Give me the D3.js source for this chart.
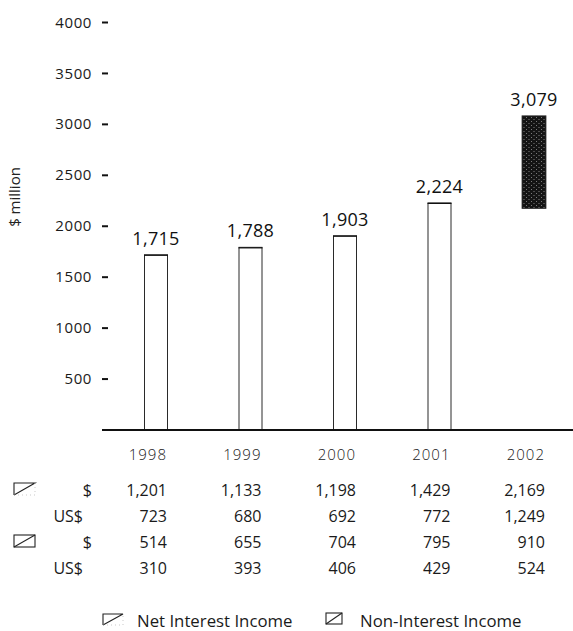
<!DOCTYPE html>
<html><head><meta charset="utf-8">
<script src="https://cdn.jsdelivr.net/npm/d3@7/dist/d3.min.js"></script>
<style>
html,body{margin:0;padding:0;background:#fff;}
svg{display:block;font-family:"Open Sans","Noto Sans",sans-serif;}
</style></head>
<body>
<svg id="c" width="573" height="631"></svg>
<script>
const years = ["1998","1999","2000","2001","2002"];
const netInterest = [1201,1133,1198,1429,2169];
const netInterestUS = [723,680,692,772,1249];
const nonInterest = [514,655,704,795,910];
const nonInterestUS = [310,393,406,429,524];
const totals = [1715,1788,1903,2224,3079];
const yTicks = [500,1000,1500,2000,2500,3000,3500,4000];
const yLabel = "$ million";
const legendLabels = ["Net Interest Income","Non-Interest Income"];

const svg = d3.select("#c");
const fmt = d3.format(",");

const y = d3.scaleLinear().domain([0,4000]).range([429.5,22]);
const x = d3.scalePoint().domain(years).range([156,534]);
const bw = 24;

// pattern for highlighted segment
const defs = svg.append("defs");
const pat = defs.append("pattern").attr("id","dense").attr("patternUnits","userSpaceOnUse")
  .attr("width",5).attr("height",4);
pat.append("rect").attr("width",5).attr("height",4).attr("fill","#141414");
pat.append("rect").attr("x",1).attr("y",1).attr("width",1).attr("height",1).attr("fill","#7a7a7a");
pat.append("rect").attr("x",3).attr("y",3).attr("width",2).attr("height",1).attr("fill","#4a4a4a");

// y axis (ticks as short dashes)
const yAxis = d3.axisLeft(y).tickValues(yTicks).tickFormat(d3.format("d")).tickSize(0).tickPadding(0);
const ga = svg.append("g").attr("transform","translate(92,0)").call(yAxis);
ga.select(".domain").remove();
ga.selectAll("text").attr("x",0).attr("dy","0.34em").attr("font-size",15)
  .attr("letter-spacing",0.6)
  .attr("fill","#1a1a1a").attr("font-family","'Open Sans',sans-serif").attr("text-anchor","end");
ga.selectAll(".tick").append("line").attr("x1",10).attr("x2",16).attr("y1",0).attr("y2",0)
  .attr("stroke","#111").attr("stroke-width",2);

svg.append("text").attr("transform","translate(20,197) rotate(-90)")
  .attr("text-anchor","middle").attr("font-size",15).attr("fill","#222").text(yLabel);

// bars: stacked segments
const g = svg.append("g");
years.forEach((yr,i)=>{
  const cx = x(yr);
  const last = i === years.length-1;
  const top = netInterest[i] + nonInterest[i];
  // net interest segment
  g.append("rect").attr("x",cx-bw/2).attr("width",bw)
    .attr("y",y(netInterest[i])).attr("height",y(0)-y(netInterest[i]))
    .attr("fill","#fff");
  // non-interest segment
  g.append("rect").attr("x",cx-bw/2).attr("width",bw)
    .attr("y",y(top)).attr("height",y(netInterest[i])-y(top))
    .attr("fill", last ? "url(#dense)" : "#fff")
    .attr("stroke", last ? "#333" : "none").attr("stroke-width",0.8);
  if(!last){
    g.append("rect").attr("x",cx-bw/2+0.5).attr("width",bw-1)
      .attr("y",y(top)).attr("height",y(0)-y(top))
      .attr("fill","none").attr("stroke","#2a2a2a").attr("stroke-width",1);
    g.append("line").attr("x1",cx-bw/2).attr("x2",cx+bw/2)
      .attr("y1",y(top)+0.5).attr("y2",y(top)+0.5)
      .attr("stroke","#111").attr("stroke-width",1.2);
  }
  g.append("text").attr("x",cx).attr("y",y(top)-10).attr("text-anchor","middle")
    .attr("font-size",18).attr("font-weight",500).attr("letter-spacing",0.3)
    .attr("fill","#111").text(fmt(totals[i]));
});

// baseline
svg.append("line").attr("x1",102).attr("x2",573).attr("y1",430).attr("y2",430)
  .attr("stroke","#111").attr("stroke-width",2);

// year labels
svg.append("g").selectAll("text").data(years).join("text")
  .attr("x",d=>x(d)+11).attr("y",460).attr("text-anchor","end")
  .attr("font-size",15).attr("font-weight",300).attr("fill","#222").attr("letter-spacing",1).text(d=>d);

// table
const rows = [
  {cur:"$", vals:netInterest, icon:"net", curX:92},
  {cur:"US$", vals:netInterestUS, icon:null, curX:83},
  {cur:"$", vals:nonInterest, icon:"non", curX:92},
  {cur:"US$", vals:nonInterestUS, icon:null, curX:83}
];
const rowY = d3.scalePoint().domain(d3.range(rows.length)).range([496,574]);
function drawIcon(sel, type, x0, y0, w, h){
  const ig = sel.append("g").attr("fill","none").attr("stroke","#222").attr("stroke-width",1.1);
  if(type==="net"){
    ig.append("path").attr("d",`M${x0},${y0+h}L${x0},${y0}L${x0+w},${y0}L${x0},${y0+h}`);
    ig.append("path").attr("d",`M${x0},${y0+h}L${x0+w},${y0+h}L${x0+w},${y0}`)
      .attr("stroke","#bbb").attr("stroke-dasharray","1,3").attr("stroke-width",0.8);
  } else {
    ig.append("rect").attr("x",x0).attr("y",y0).attr("width",w).attr("height",h);
    ig.append("path").attr("d",`M${x0},${y0+h}L${x0+w},${y0}`);
  }
}
rows.forEach((r,ri)=>{
  const yy = rowY(ri);
  svg.append("text").attr("x",r.curX).attr("y",yy).attr("text-anchor","end")
    .attr("font-size",16).attr("fill","#1a1a1a").text(r.cur);
  svg.append("g").selectAll("text").data(r.vals).join("text")
    .attr("x",(d,i)=>x(years[i])+11).attr("y",yy).attr("text-anchor","end")
    .attr("font-size",16).attr("fill","#1a1a1a").text(d=>fmt(d));
  if(r.icon) drawIcon(svg, r.icon, 14, yy-13, 21, 12);
});

// legend
drawIcon(svg, "net", 103, 614, 20, 11);
svg.append("text").attr("x",137).attr("y",627).attr("font-size",16.8).attr("fill","#1a1a1a").text(legendLabels[0]);
drawIcon(svg, "non", 326, 613, 16, 11);
svg.append("text").attr("x",360).attr("y",627).attr("font-size",16.8).attr("fill","#1a1a1a").text(legendLabels[1]);
</script>
</body></html>
